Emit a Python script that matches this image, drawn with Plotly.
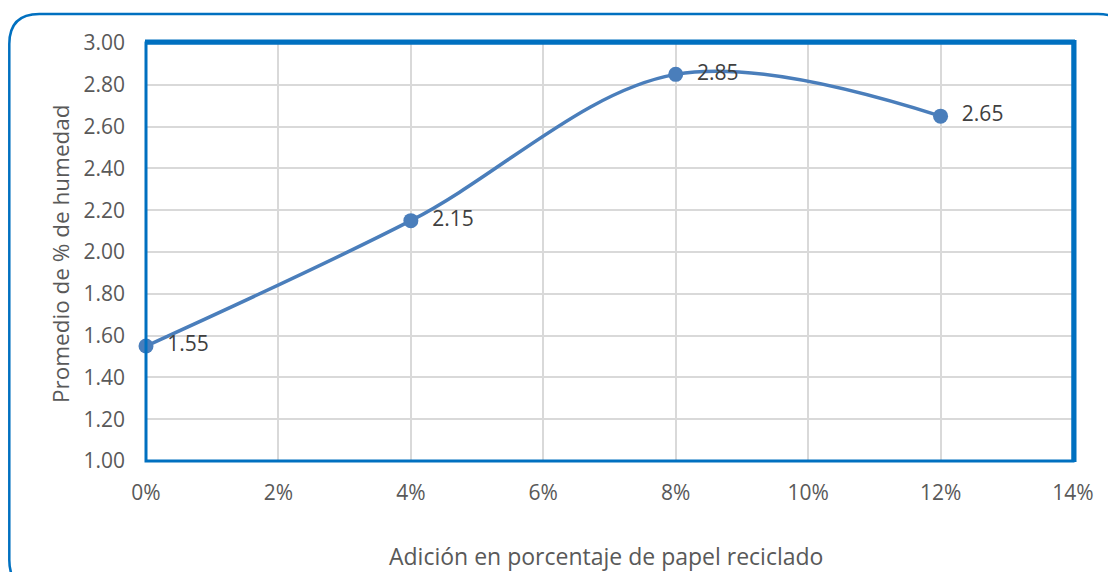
import plotly.graph_objects as go

adicion = [0.0, 0.04, 0.08, 0.12]
humedad = [1.55, 2.15, 2.85, 2.65]
etiquetas = ["1.55", "2.15", "2.85", "2.65"]

# page body has an 8px margin, so the figure is laid out 8px up/left of the window
OFF = 8
W, H = 1116 - OFF, 572 - OFF
L, R, T, B = 146 - OFF, 1073 - OFF, 43 - OFF, 461 - OFF

def px(x):
    return (x - OFF - L) / (R - L)

def py(y):
    return (B - (y - OFF)) / (B - T)

fig = go.Figure()
fig.add_trace(go.Scatter(
    x=adicion, y=humedad, mode="lines+markers+text",
    text=["  " + t for t in etiquetas], textposition="middle right",
    textfont=dict(family="Open Sans", size=21, color="#404040"),
    line=dict(color="#4A7EBB", width=3.5, shape="spline", smoothing=1.0),
    marker=dict(color="#4A7EBB", size=15),
    cliponaxis=False, showlegend=False,
))

blue = "#0070C0"
x0, y0, x1, y1, r = 9.3, 14, 1128, 590, 30
path = (f"M {px(x0)} {py(y0 + r)} Q {px(x0)} {py(y0)} {px(x0 + r)} {py(y0)} "
        f"L {px(x1 - r)} {py(y0)} Q {px(x1)} {py(y0)} {px(x1)} {py(y0 + r)} "
        f"L {px(x1)} {py(y1 - r)} Q {px(x1)} {py(y1)} {px(x1 - r)} {py(y1)} "
        f"L {px(x0 + r)} {py(y1)} Q {px(x0)} {py(y1)} {px(x0)} {py(y1 - r)} Z")
shapes = [
    dict(type="path", path=path, xref="paper", yref="paper",
         line=dict(color=blue, width=2.5), layer="below"),
    dict(type="rect", xref="paper", yref="paper", x0=0, y0=0, x1=1, y1=1,
         line=dict(color=blue, width=3), layer="above"),
    dict(type="line", xref="paper", yref="paper", x0=px(145), x1=px(1075), y0=py(42), y1=py(42),
         line=dict(color=blue, width=5), layer="above"),
    dict(type="line", xref="paper", yref="paper", x0=px(1074), x1=px(1074), y0=py(40), y1=py(462),
         line=dict(color=blue, width=5), layer="above"),
]

fig.update_layout(
    width=W, height=H,
    margin=dict(l=L, r=W - R, t=T, b=H - B),
    paper_bgcolor="white", plot_bgcolor="white",
    font=dict(family="Open Sans", color="#595959", size=21),
    shapes=shapes,
    xaxis=dict(range=[0, 0.14], dtick=0.02, tick0=0, tickformat=".0%",
               showgrid=True, gridcolor="#D9D9D9", gridwidth=1.5,
               zeroline=False, showline=False, ticks="", ticklabelstandoff=17,
               tickfont=dict(size=21, color="#595959")),
    yaxis=dict(range=[1.0, 3.0], dtick=0.2, tick0=1.0, tickformat=".2f",
               showgrid=True, gridcolor="#D9D9D9", gridwidth=1.5,
               zeroline=False, showline=False, ticks="", ticklabelstandoff=20,
               tickfont=dict(size=21, color="#595959")),
    annotations=[
        dict(text="Adición en porcentaje de papel reciclado", xref="paper", yref="paper",
             x=px(606), y=py(556), showarrow=False, xanchor="center", yanchor="middle",
             font=dict(size=23, color="#595959")),
        dict(text="Promedio de % de humedad", xref="paper", yref="paper",
             x=px(60), y=py(254), showarrow=False, xanchor="center", yanchor="middle",
             textangle=-90, font=dict(size=22.5, color="#595959")),
    ],
)

fig.write_html("out.html")
